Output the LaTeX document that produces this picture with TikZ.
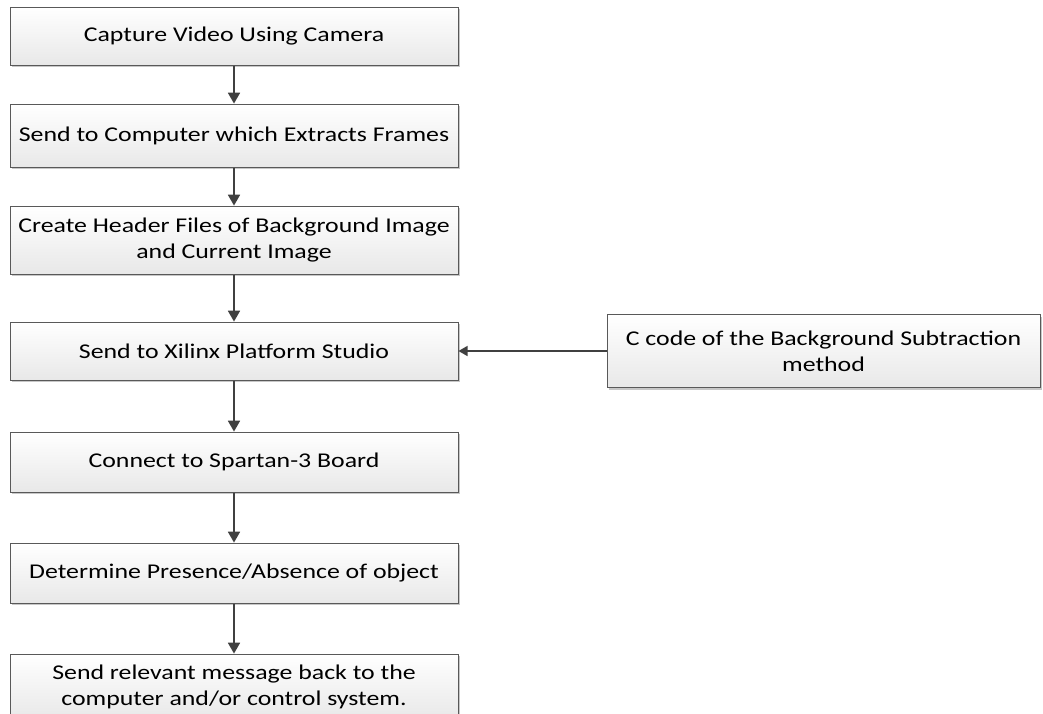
\documentclass[tikz,border=0pt]{standalone}
\usepackage{fontspec}
\setmainfont{Carlito}[FakeStretch=1.23]
\usetikzlibrary{arrows, shadows}

\begin{document}
\begin{tikzpicture}[x=1pt, y=1pt, >=triangle 60]
\tikzset{ stage/.style={align=center, minimum width=448pt, draw=black!65, line width=1pt,
                        top color=white, bottom color=black!9,
                        drop shadow={shadow xshift=2pt, shadow yshift=-2pt, fill=black!22, opacity=1},
                        font=\fontsize{21}{26}\selectfont},
          link/.style={->, draw=black!75, line width=2pt} };

\useasboundingbox (0,0) rectangle (1043,-713);

\node[stage, minimum height=58pt] (S1) at (234,-36) {Capture Video Using Camera};
\node[stage, minimum height=63pt] (S2) at (234,-135.5) {Send to Computer which Extracts Frames};
\node[stage, minimum height=68pt] (S3) at (234,-240) {Create Header Files of Background Image\\and Current Image};
\node[stage, minimum height=58pt] (S4) at (234,-351) {Send to Xilinx Platform Studio};
\node[stage, minimum height=60pt] (S5) at (234,-462) {Connect to Spartan-3 Board};
\node[stage, minimum height=60pt] (S6) at (234,-573) {Determine Presence/Absence of object};
\node[stage, minimum height=66pt] (S7) at (234,-687) {Send relevant message back to the\\computer and/or control system.};

\node[stage, minimum width=433pt, minimum height=73pt] (Ccode) at (823.5,-351) {C code of the Background Subtraction\\method};

\draw[link] (S1) -- (S2);
\draw[link] (S2) -- (S3);
\draw[link] (S3) -- (S4);
\draw[link] (S4) -- (S5);
\draw[link] (S5) -- (S6);
\draw[link] (S6) -- (S7);
\draw[link, line width=1.5pt] (Ccode.west) -- (S4.east);

\end{tikzpicture}
\end{document}
